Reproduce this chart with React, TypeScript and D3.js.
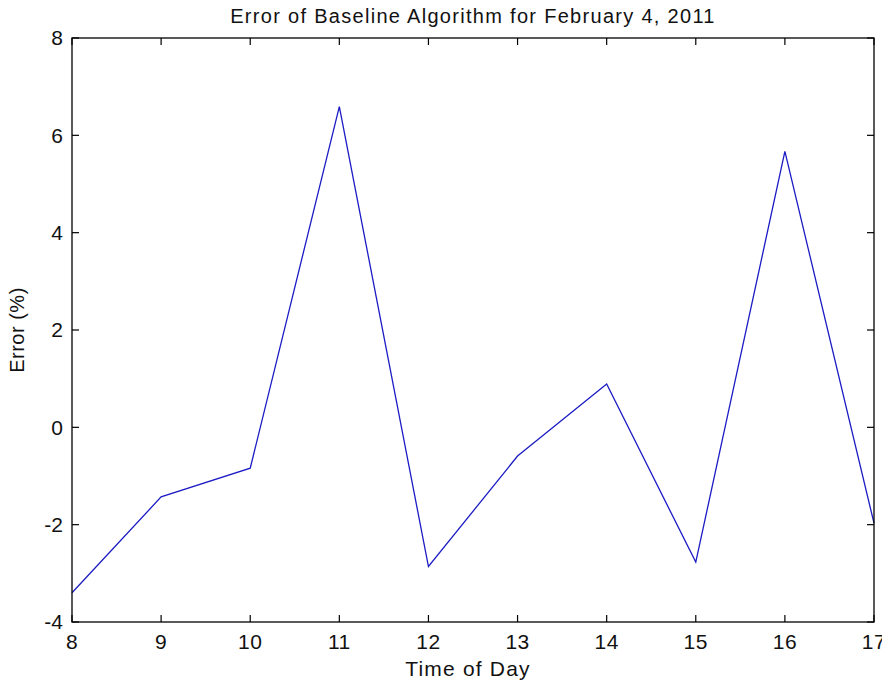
import React, { useEffect } from "react";
import * as d3 from "d3";

// hours of day and baseline error (%)
const hours = [8, 9, 10, 11, 12, 13, 14, 15, 16, 17];
const errors = [-3.4, -1.43, -0.84, 6.59, -2.86, -0.59, 0.89, -2.77, 5.67, -1.97];
const xTicks = [8, 9, 10, 11, 12, 13, 14, 15, 16, 17];
const yTicks = [-4, -2, 0, 2, 4, 6, 8];

const W = 882;
const H = 689;
const left = 72;
const right = 874;
const top = 38;
const bottom = 622;
const tick = 7;
const font = "'Liberation Sans', Arial, sans-serif";

const App = () => {
  useEffect(() => {
    document.body.style.margin = "0";
  }, []);

  const x = d3.scaleLinear().domain([8, 17]).range([left, right]);
  const y = d3.scaleLinear().domain([-4, 8]).range([bottom, top]);

  const line = d3
    .line<number>()
    .x((d, i) => x(hours[i]))
    .y((d) => y(d));

  return (
    <svg width={W} height={H} style={{ display: "block", background: "#fff" }}>
      <path d={line(errors) || ""} fill="none" stroke="#1c1cc4" strokeWidth={1.3} />

      {/* box */}
      <rect
        x={left}
        y={top}
        width={right - left}
        height={bottom - top}
        fill="none"
        stroke="#000"
        strokeWidth={1.3}
      />

      {/* x ticks, bottom and top */}
      {xTicks.map((t) => (
        <g key={"x" + t}>
          <line x1={x(t)} x2={x(t)} y1={bottom} y2={bottom - tick} stroke="#000" strokeWidth={1.2} />
          <line x1={x(t)} x2={x(t)} y1={top} y2={top + tick} stroke="#000" strokeWidth={1.2} />
          <text
            x={x(t)}
            y={bottom + 27}
            textAnchor="middle"
            fontFamily={font}
            fontSize={21}
            letterSpacing={0.5}
            fill="#111"
          >
            {t}
          </text>
        </g>
      ))}

      {/* y ticks, left and right */}
      {yTicks.map((t) => (
        <g key={"y" + t}>
          <line x1={left} x2={left + tick} y1={y(t)} y2={y(t)} stroke="#000" strokeWidth={1.2} />
          <line x1={right} x2={right - tick} y1={y(t)} y2={y(t)} stroke="#000" strokeWidth={1.2} />
          <text
            x={left - 9}
            y={y(t)}
            dy="0.35em"
            textAnchor="end"
            fontFamily={font}
            fontSize={21}
            fill="#111"
          >
            {t}
          </text>
        </g>
      ))}

      <text
        x={(left + right) / 2}
        y={23}
        textAnchor="middle"
        fontFamily={font}
        fontSize={20}
        letterSpacing={1.3}
        fill="#111"
      >
        Error of Baseline Algorithm for February 4, 2011
      </text>
      <text
        x={(left + right) / 2 - 5}
        y={676}
        textAnchor="middle"
        fontFamily={font}
        fontSize={21}
        letterSpacing={1.2}
        fill="#111"
      >
        Time of Day
      </text>
      <text
        transform={`translate(24, ${(top + bottom) / 2}) rotate(-90)`}
        textAnchor="middle"
        fontFamily={font}
        fontSize={20}
        letterSpacing={0.5}
        fill="#111"
      >
        Error (%)
      </text>
    </svg>
  );
};

export default App;
